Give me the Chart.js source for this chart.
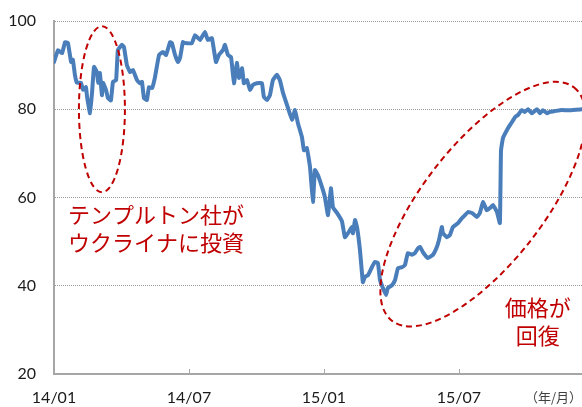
<!DOCTYPE html>
<html>
<head>
<meta charset="utf-8">
<script src="https://cdn.jsdelivr.net/npm/chart.js@4.4.1/dist/chart.umd.min.js"></script>
<style>
html,body{margin:0;padding:0;background:#fff;}
#wrap{width:582px;height:407px;position:relative;}
</style>
</head>
<body>
<div id="wrap"><canvas id="c" width="582" height="407"></canvas></div>
<script>
// x tick labels (year/month) and their positions in months since 2014/01
const tickLabels = ['14/01','14/07','15/01','15/07'];
const tickMonths = [0, 6, 12, 18];
const yTicks = [20, 40, 60, 80, 100];

// months since 2014/01
const months = [0,0.18,0.36,0.49,0.62,0.76,0.84,0.93,1.02,1.2,1.29,1.42,1.47,1.6,1.69,1.78,1.91,1.96,2.04,2.13,2.18,2.31,2.4,2.53,2.62,2.76,2.84,3.02,3.11,3.24,3.38,3.51,3.69,3.82,3.91,4.0,4.13,4.22,4.36,4.49,4.67,4.84,4.98,5.16,5.24,5.38,5.51,5.6,5.73,5.82,6.13,6.27,6.49,6.71,6.84,7.02,7.2,7.33,7.51,7.6,7.73,7.87,8.0,8.13,8.22,8.36,8.44,8.58,8.71,8.84,9.02,9.24,9.33,9.47,9.6,9.73,9.91,10.04,10.18,10.4,10.58,10.71,10.84,11.02,11.11,11.24,11.38,11.51,11.6,11.73,11.91,12.04,12.18,12.31,12.4,12.58,12.8,12.93,13.07,13.24,13.29,13.38,13.47,13.6,13.73,13.82,13.96,14.13,14.27,14.4,14.49,14.62,14.76,14.84,15.02,15.16,15.29,15.47,15.6,15.73,15.91,16.04,16.18,16.27,16.4,16.62,16.84,17.02,17.11,17.24,17.29,17.47,17.6,17.73,17.96,18.13,18.27,18.4,18.58,18.8,18.93,19.07,19.24,19.38,19.51,19.69,19.82,19.87,19.96,20.18,20.36,20.49,20.62,20.8,20.93,21.07,21.24,21.47,21.6,21.73,21.91,22.04,22.27,22.49,22.93,23.47];
// price index
const prices = [90.7,93.4,92.7,95.2,95.0,90.7,91.2,87.8,86.0,86.0,84.4,85.0,82.8,79.1,83.7,89.6,88.4,86.0,88.2,83.2,86.0,84.4,82.5,82.0,86.2,86.6,93.4,94.6,94.1,90.0,88.4,88.9,86.6,85.9,86.2,82.5,82.1,85.0,84.8,87.3,92.3,93.0,92.3,95.2,95.0,92.3,90.7,91.6,95.2,95.0,95.0,96.8,95.7,97.5,95.7,96.1,90.7,92.3,93.4,94.6,92.3,91.8,85.9,90.5,87.1,89.3,85.9,86.6,84.4,85.5,85.9,85.9,82.8,82.1,83.2,86.6,87.8,86.6,83.7,80.3,77.6,79.8,76.9,73.7,70.7,71.2,66.9,59.0,66.2,65.1,62.4,60.1,56.0,62.1,57.8,56.5,54.6,51.0,51.9,53.3,51.9,54.9,53.3,48.1,40.8,42.0,42.4,44.2,45.4,45.1,41.3,39.5,37.9,39.5,40.1,41.3,44.0,44.2,44.7,47.4,47.0,47.4,48.5,48.8,47.6,46.3,47.0,48.8,50.3,53.3,51.9,51.0,51.5,53.3,54.2,55.3,56.0,56.7,56.5,55.6,56.5,59.0,57.1,57.6,58.3,56.7,54.2,70.7,73.5,75.7,77.1,78.2,78.7,79.8,79.4,80.0,79.1,80.0,79.1,79.8,79.1,79.4,79.6,79.8,79.8,80.0];

// annotations (texts)
const noteLeft = ['テンプルトン社が','ウクライナに投資'];
const noteRight = ['価格が','回復'];
const unitLabel = '（年/月）';

const RED = '#c00000';
const AXIS = '#a6a6a6';

const annotPlugin = {
  id: 'annot',
  afterDraw(chart) {
    const ctx = chart.ctx;
    const xs = chart.scales.x, ys = chart.scales.y;
    const area = chart.chartArea;
    ctx.save();
    // inward tick marks on x axis
    ctx.strokeStyle = AXIS; ctx.lineWidth = 1;
    tickMonths.slice(1).forEach(m => {
      const px = Math.round(xs.getPixelForValue(m)) + 0.5;
      ctx.beginPath(); ctx.moveTo(px, area.bottom); ctx.lineTo(px, area.bottom - 5); ctx.stroke();
    });
    // ellipses
    ctx.strokeStyle = RED; ctx.lineWidth = 2; ctx.setLineDash([6, 4]);
    ctx.beginPath();
    ctx.ellipse(xs.getPixelForValue(2.13), ys.getPixelForValue(80.0), 23, 83, 0, 0, Math.PI * 2);
    ctx.stroke();
    ctx.beginPath();
    ctx.ellipse(xs.getPixelForValue(19.07), ys.getPixelForValue(58.5), 148, 60, -52 * Math.PI / 180, 0, Math.PI * 2);
    ctx.stroke();
    ctx.setLineDash([]);
    // texts
    ctx.fillStyle = RED;
    ctx.font = '22px "Noto Sans CJK JP"';
    ctx.textBaseline = 'middle';
    ctx.textAlign = 'left';
    ctx.fillText(noteLeft[0], xs.getPixelForValue(0.62), ys.getPixelForValue(56.2));
    ctx.fillText(noteLeft[1], xs.getPixelForValue(0.62), ys.getPixelForValue(49.7));
    ctx.textAlign = 'center';
    ctx.fillText(noteRight[0], xs.getPixelForValue(21.5), ys.getPixelForValue(35.1));
    ctx.fillText(noteRight[1], xs.getPixelForValue(21.5), ys.getPixelForValue(28.8));
    // unit label
    ctx.fillStyle = '#404040';
    ctx.font = '13px "Noto Sans CJK JP"';
    ctx.textAlign = 'right';
    ctx.fillText(unitLabel, chart.width, 397);
    ctx.restore();
  }
};

new Chart(document.getElementById('c'), {
  type: 'line',
  data: {
    datasets: [{
      data: months.map((m, i) => ({x: m, y: prices[i]})),
      borderColor: '#4a7ebb',
      borderWidth: 4,
      pointRadius: 0,
      tension: 0.1,
      fill: false,
      borderJoinStyle: 'round',
      borderCapStyle: 'round'
    }]
  },
  options: {
    responsive: false,
    animation: false,
    devicePixelRatio: 1,
    layout: {padding: {top: 21, right: 0, left: 0, bottom: 0}},
    plugins: {legend: {display: false}, tooltip: {enabled: false}},
    scales: {
      x: {
        type: 'linear',
        min: 0,
        max: 23.47,
        afterBuildTicks: s => { s.ticks = tickMonths.map(v => ({value: v})); },
        afterFit: s => { s.height = 33; s.paddingLeft = 0; s.paddingRight = 0; },
        ticks: {
          callback: v => tickLabels[tickMonths.indexOf(v)],
          font: {family: 'Lato', size: 16},
          color: '#1a1a1a',
          padding: 14,
          maxRotation: 0,
          autoSkip: false
        },
        grid: {display: true, drawOnChartArea: false, drawTicks: false},
        border: {display: true, color: AXIS, width: 2}
      },
      y: {
        min: 20,
        max: 100,
        afterBuildTicks: s => { s.ticks = yTicks.map(v => ({value: v})); },
        afterFit: s => { s.width = 54; s.paddingTop = 0; s.paddingBottom = 0; },
        ticks: {
          font: {family: 'Lato', size: 16},
          color: '#1a1a1a',
          padding: 18
        },
        grid: {color: '#9a9a9a', lineWidth: 1, drawTicks: false},
        border: {display: true, color: AXIS, width: 2, dash: [1, 1]}
      }
    }
  },
  plugins: [annotPlugin]
});
</script>
</body>
</html>
